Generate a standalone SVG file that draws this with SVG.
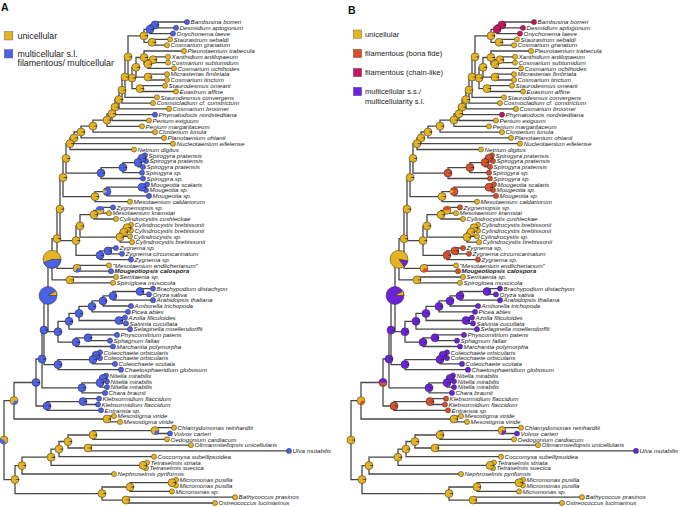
<svg xmlns="http://www.w3.org/2000/svg" width="680" height="507" viewBox="0 0 680 507">
<style>
.c{fill:none;stroke:#474747;stroke-width:1.3}
.t{font-family:"Liberation Sans",Arial,sans-serif;font-style:italic;font-size:6.2px;fill:#1a1a1a}
.b{font-weight:bold}
.hd{font-family:"Liberation Sans",Arial,sans-serif;font-weight:bold;font-size:10.5px;fill:#111}
.la{font-family:"Liberation Sans",Arial,sans-serif;font-size:8.8px;fill:#1a1a1a}
.lb{font-family:"Liberation Sans",Arial,sans-serif;font-size:7.6px;fill:#1a1a1a}
.sq{stroke:#555;stroke-width:.4}
.pe{stroke:#2a2a2a;stroke-width:.5}
</style>
<defs>
<circle id="dY" r="2.6" fill="#E6B422" stroke="#2a2a2a" stroke-width=".45"/>
<circle id="dB" r="2.6" fill="#4B61E6" stroke="#2a2a2a" stroke-width=".45"/>
<circle id="dO" r="2.6" fill="#D5502B" stroke="#2a2a2a" stroke-width=".45"/>
<circle id="dC" r="2.6" fill="#C81560" stroke="#2a2a2a" stroke-width=".45"/>
<circle id="dP" r="2.6" fill="#6C22DA" stroke="#2a2a2a" stroke-width=".45"/>
<g id="pY"><circle r="4" fill="#E6B422" stroke="#2a2a2a" stroke-width=".5"/><path d="M0 0L4 -.7V.7Z" fill="#2a2a2a"/></g>
<g id="pB"><circle r="4" fill="#4B61E6" stroke="#2a2a2a" stroke-width=".5"/><path d="M0 0L4 -.7V.7Z" fill="#2a2a2a"/></g>
<g id="pO"><circle r="4" fill="#D5502B" stroke="#2a2a2a" stroke-width=".5"/><path d="M0 0L4 -.7V.7Z" fill="#2a2a2a"/></g>
<g id="pC"><circle r="4" fill="#C81560" stroke="#2a2a2a" stroke-width=".5"/><path d="M0 0L4 -.7V.7Z" fill="#2a2a2a"/></g>
<g id="pP"><circle r="4" fill="#6C22DA" stroke="#2a2a2a" stroke-width=".5"/><path d="M0 0L4 -.7V.7Z" fill="#2a2a2a"/></g>
</defs>
<rect width="680" height="507" fill="#fff"/>

<g id="legendA">
<text class="hd" x="1" y="11">A</text>
<rect class="sq" x="4.3" y="31.5" width="8.5" height="8.5" fill="#E6B422"/>
<text class="la" x="17.5" y="39">unicellular</text>
<rect class="sq" x="4.3" y="49.5" width="8.5" height="8.5" fill="#4B61E6"/>
<text class="la" x="17.5" y="56.5">multicellular s.l.</text>
<text class="la" x="17.5" y="66.2">filamentous/ multicellular</text>
</g>

<g id="legendB">
<text class="hd" x="348" y="13.5">B</text>
<rect class="sq" x="353.3" y="30" width="8.4" height="8.4" fill="#E6B422"/>
<text class="lb" x="365" y="37.3">unicellular</text>
<rect class="sq" x="353.3" y="49.3" width="8.4" height="8.4" fill="#D5502B"/>
<text class="lb" x="365" y="56.2">filamentous (bona fide)</text>
<rect class="sq" x="353.3" y="68.3" width="8.4" height="8.4" fill="#C81560"/>
<text class="lb" x="365" y="75.2">filamentous (chain-like)</text>
<rect class="sq" x="353.3" y="87.3" width="8.4" height="8.4" fill="#6C22DA"/>
<text class="lb" x="365" y="94.2">multicellular s.s./</text>
<text class="lb" x="365" y="103.6">multicellularity s.l.</text>
</g>

<g id="connectorsA">
<path class="c" d="M187 22H155V27.8H176M155 24.9H150V33.6H173M170 39.4H152V45.2H167M150 29.3H144V42.3H152M168 56.8H153V62.6H168M153 59.7H148V68.4H174M184 51H144V64.1H148M167 74.2H148V80H167M144 57.5H136V77.1H148M165 85.7H140V91.5H176M136 67.3H132V88.6H140M144 35.8H128V78H132M128 56.9H125V97.3H157M125 77.1H122V103.1H153M122 90.1H119V108.9H169M119 99.5H115V114.7H155M115 107.1H112V120.5H149M112 113.8H107V126.3H142M107 120.1H93V132.1H155M93 126.1H81V137.9H164M81 132H74V143.7H173M74 137.9H70V149.5H134M145 155.3H142V161.1H146M142 158.2H138V166.9H143M138 162.6H123V172.7H142M123 167.6H101V178.5H143M70 143.7H66V173.1H101M147 184.3H142V190.1H146M142 187.2H107V195.9H149M107 191.6H95V201.7H130M66 158.4H63V196.6H95M113 207.4H100V213.2H109M100 210.3H94V219H116M131 224.8H127V230.6H131M127 227.7H124V236.4H130M124 232.1H120V242.2H132M94 214.7H80V237.1H120M116 248H108V253.8H122M108 250.9H100V259.6H131M80 225.9H76V255.3H100M63 177.5H60V240.6H76M109 265.4H77V271.2H111M60 209.1H57V268.3H77M116 277H70V282.8H113M57 238.7H52V279.9H70M153 288.6H140V294.4H149M140 291.5H113V300.2H153M113 295.9H103V306H131M103 300.9H92V311.8H128M125 317.6H119V323.4H126M92 306.4H79V320.5H119M79 313.4H69V329.2H130M117 334.9H88V340.7H110M88 337.8H76V346.5H113M69 321.3H58V342.2H76M52 259.3H48V331.7H58M100 352.3H96V358.1H100M96 355.2H93V363.9H115M93 359.6H58V369.7H121M48 295.5H44V364.6H58M106 375.5H103V381.3H107M103 378.4H100V387.1H107M100 382.8H82V392.9H105M44 330.1H42V387.8H82M99 398.7H83V404.5H98M83 401.6H47V410.3H101M42 359H36V406H47M114 416.1H107V421.9H120M36 382.5H14V419H107M174 427.7H155V433.5H170M155 430.6H93V439.3H167M191 445.1H88V450.9H289M93 435H68V448H88M68 441.5H59V456.7H154M147 462.5H143V468.2H146M59 449.1H51V465.4H143M51 457.2H22V474H114M176 479.8H172V485.6H176M172 482.7H130V491.4H172M235 497.2H126V503H215M130 487H102V500.1H126M22 465.6H15V493.6H102M14 400.7H4V479.6H15"/>
</g>

<g id="leavesA">
<g id="a01"><use href="#dB" x="187" y="22"/><text class="t" x="190.6" y="24.2">Bambusina borreri</text></g>
<g id="a02"><use href="#dB" x="176" y="27.8"/><text class="t" x="179.6" y="30">Desmidium aptogonum</text></g>
<g id="a03"><use href="#dB" x="173" y="33.6"/><text class="t" x="176.6" y="35.8">Onychonema laeve</text></g>
<g id="a04"><use href="#dY" x="170" y="39.4"/><text class="t" x="173.6" y="41.6">Staurastrum sebaldi</text></g>
<g id="a05"><use href="#dY" x="167" y="45.2"/><text class="t" x="170.6" y="47.4">Cosmarium granatum</text></g>
<g id="a06"><use href="#dY" x="184" y="51"/><text class="t" x="187.6" y="53.2">Pleurotaenium trabecula</text></g>
<g id="a07"><use href="#dY" x="168" y="56.8"/><text class="t" x="171.6" y="59">Xanthidium antilopaeum</text></g>
<g id="a08"><use href="#dY" x="168" y="62.6"/><text class="t" x="171.6" y="64.8">Cosmarium subtumidum</text></g>
<g id="a09"><use href="#dY" x="174" y="68.4"/><text class="t" x="177.6" y="70.6">Cosmarium ochthodes</text></g>
<g id="a10"><use href="#dY" x="167" y="74.2"/><text class="t" x="170.6" y="76.4">Micrasterias fimbriata</text></g>
<g id="a11"><use href="#dY" x="167" y="80"/><text class="t" x="170.6" y="82.2">Cosmarium tinctum</text></g>
<g id="a12"><use href="#dY" x="165" y="85.7"/><text class="t" x="168.6" y="87.9">Staurodesmus omearii</text></g>
<g id="a13"><use href="#dY" x="176" y="91.5"/><text class="t" x="179.6" y="93.7">Euastrum affine</text></g>
<g id="a14"><use href="#dY" x="157" y="97.3"/><text class="t" x="160.6" y="99.5">Staurodesmus convergens</text></g>
<g id="a15"><use href="#dY" x="153" y="103.1"/><text class="t" x="156.6" y="105.3">Cosmocladium cf. constrictum</text></g>
<g id="a16"><use href="#dY" x="169" y="108.9"/><text class="t" x="172.6" y="111.1">Cosmarium broomei</text></g>
<g id="a17"><use href="#dB" x="155" y="114.7"/><text class="t" x="158.6" y="116.9">Phymatodocis nordstedtiana</text></g>
<g id="a18"><use href="#dY" x="149" y="120.5"/><text class="t" x="152.6" y="122.7">Penium exiguum</text></g>
<g id="a19"><use href="#dY" x="142" y="126.3"/><text class="t" x="145.6" y="128.5">Penium margaritaceum</text></g>
<g id="a20"><use href="#dY" x="155" y="132.1"/><text class="t" x="158.6" y="134.3">Closterium lunula</text></g>
<g id="a21"><use href="#dY" x="164" y="137.9"/><text class="t" x="167.6" y="140.1">Planotaenium ohtanii</text></g>
<g id="a22"><use href="#dY" x="173" y="143.7"/><text class="t" x="176.6" y="145.9">Nucleotaenium eifelense</text></g>
<g id="a23"><use href="#dY" x="134" y="149.5"/><text class="t" x="137.6" y="151.7">Netrium digitus</text></g>
<g id="a24"><use href="#dB" x="145" y="155.3"/><text class="t" x="148.6" y="157.5">Spirogyra pratensis</text></g>
<g id="a25"><use href="#dB" x="146" y="161.1"/><text class="t" x="149.6" y="163.3">Spirogyra pratensis</text></g>
<g id="a26"><use href="#dB" x="143" y="166.9"/><text class="t" x="146.6" y="169.1">Spirogyra pratensis</text></g>
<g id="a27"><use href="#dB" x="142" y="172.7"/><text class="t" x="145.6" y="174.9">Spirogyra sp.</text></g>
<g id="a28"><use href="#dB" x="143" y="178.5"/><text class="t" x="146.6" y="180.7">Spirogyra sp.</text></g>
<g id="a29"><use href="#dB" x="147" y="184.3"/><text class="t" x="150.6" y="186.5">Mougeotia scalaris</text></g>
<g id="a30"><use href="#dB" x="146" y="190.1"/><text class="t" x="149.6" y="192.3">Mougeotia sp.</text></g>
<g id="a31"><use href="#dB" x="149" y="195.9"/><text class="t" x="152.6" y="198.1">Mougeotia sp.</text></g>
<g id="a32"><use href="#dY" x="130" y="201.7"/><text class="t" x="133.6" y="203.9">Mesotaenium caldariorum</text></g>
<g id="a33"><use href="#dB" x="113" y="207.4"/><text class="t" x="116.6" y="209.6">Zygnemopsis sp.</text></g>
<g id="a34"><use href="#dY" x="109" y="213.2"/><text class="t" x="112.6" y="215.4">Mesotaenium kramstai</text></g>
<g id="a35"><use href="#dY" x="116" y="219"/><text class="t" x="119.6" y="221.2">Cylindrocystis cushleckae</text></g>
<g id="a36"><use href="#dY" x="131" y="224.8"/><text class="t" x="134.6" y="227">Cylindrocystis brebissonii</text></g>
<g id="a37"><use href="#dY" x="131" y="230.6"/><text class="t" x="134.6" y="232.8">Cylindrocystis brebissonii</text></g>
<g id="a38"><use href="#dY" x="130" y="236.4"/><text class="t" x="133.6" y="238.6">Cylindrocystis sp.</text></g>
<g id="a39"><use href="#dY" x="132" y="242.2"/><text class="t" x="135.6" y="244.4">Cylindrocystis brebissonii</text></g>
<g id="a40"><use href="#dB" x="116" y="248"/><text class="t" x="119.6" y="250.2">Zygnema sp.</text></g>
<g id="a41"><use href="#dB" x="122" y="253.8"/><text class="t" x="125.6" y="256">Zygnema circumcarinatum</text></g>
<g id="a42"><use href="#dB" x="131" y="259.6"/><text class="t" x="134.6" y="261.8">Zygnema sp.</text></g>
<g id="a43"><use href="#dY" x="109" y="265.4"/><text class="t" x="112.6" y="267.6">"Mesotaenium endlicherianum"</text></g>
<g id="a44"><use href="#dB" x="111" y="271.2"/><text class="t b" x="114.6" y="273.4">Mougeotiopsis calospora</text></g>
<g id="a45"><use href="#dY" x="116" y="277"/><text class="t" x="119.6" y="279.2">Serritaenia sp.</text></g>
<g id="a46"><use href="#dY" x="113" y="282.8"/><text class="t" x="116.6" y="285">Spirogloea muscicola</text></g>
<g id="a47"><use href="#dB" x="153" y="288.6"/><text class="t" x="156.6" y="290.8">Brachypodium distachyon</text></g>
<g id="a48"><use href="#dB" x="149" y="294.4"/><text class="t" x="152.6" y="296.6">Oryza sativa</text></g>
<g id="a49"><use href="#dB" x="153" y="300.2"/><text class="t" x="156.6" y="302.4">Arabidopsis thaliana</text></g>
<g id="a50"><use href="#dB" x="131" y="306"/><text class="t" x="134.6" y="308.2">Amborella trichopoda</text></g>
<g id="a51"><use href="#dB" x="128" y="311.8"/><text class="t" x="131.6" y="314">Picea abies</text></g>
<g id="a52"><use href="#dB" x="125" y="317.6"/><text class="t" x="128.6" y="319.8">Azolla filiculoides</text></g>
<g id="a53"><use href="#dB" x="126" y="323.4"/><text class="t" x="129.6" y="325.6">Salvinia cucullata</text></g>
<g id="a54"><use href="#dB" x="130" y="329.2"/><text class="t" x="133.6" y="331.4">Selaginella moellendorffii</text></g>
<g id="a55"><use href="#dB" x="117" y="334.9"/><text class="t" x="120.6" y="337.1">Physcomitrium patens</text></g>
<g id="a56"><use href="#dB" x="110" y="340.7"/><text class="t" x="113.6" y="342.9">Sphagnum fallax</text></g>
<g id="a57"><use href="#dB" x="113" y="346.5"/><text class="t" x="116.6" y="348.7">Marchantia polymorpha</text></g>
<g id="a58"><use href="#dB" x="100" y="352.3"/><text class="t" x="103.6" y="354.5">Coleochaete orbicularis</text></g>
<g id="a59"><use href="#dB" x="100" y="358.1"/><text class="t" x="103.6" y="360.3">Coleochaete orbicularis</text></g>
<g id="a60"><use href="#dB" x="115" y="363.9"/><text class="t" x="118.6" y="366.1">Coleochaete scutata</text></g>
<g id="a61"><use href="#dB" x="121" y="369.7"/><text class="t" x="124.6" y="371.9">Chaetosphaeridium globosum</text></g>
<g id="a62"><use href="#dB" x="106" y="375.5"/><text class="t" x="109.6" y="377.7">Nitella mirabilis</text></g>
<g id="a63"><use href="#dB" x="107" y="381.3"/><text class="t" x="110.6" y="383.5">Nitella mirabilis</text></g>
<g id="a64"><use href="#dB" x="107" y="387.1"/><text class="t" x="110.6" y="389.3">Nitella mirabilis</text></g>
<g id="a65"><use href="#dB" x="105" y="392.9"/><text class="t" x="108.6" y="395.1">Chara braunii</text></g>
<g id="a66"><use href="#dB" x="99" y="398.7"/><text class="t" x="102.6" y="400.9">Klebsormidium flaccidum</text></g>
<g id="a67"><use href="#dB" x="98" y="404.5"/><text class="t" x="101.6" y="406.7">Klebsormidium flaccidum</text></g>
<g id="a68"><use href="#dB" x="101" y="410.3"/><text class="t" x="104.6" y="412.5">Entransia sp.</text></g>
<g id="a69"><use href="#dY" x="114" y="416.1"/><text class="t" x="117.6" y="418.3">Mesostigma viride</text></g>
<g id="a70"><use href="#dY" x="120" y="421.9"/><text class="t" x="123.6" y="424.1">Mesostigma viride</text></g>
<g id="a71"><use href="#dY" x="174" y="427.7"/><text class="t" x="177.6" y="429.9">Chlamydomonas reinhardtii</text></g>
<g id="a72"><use href="#dB" x="170" y="433.5"/><text class="t" x="173.6" y="435.7">Volvox carteri</text></g>
<g id="a73"><use href="#dY" x="167" y="439.3"/><text class="t" x="170.6" y="441.5">Oedogonium cardiacum</text></g>
<g id="a74"><use href="#dY" x="191" y="445.1"/><text class="t" x="194.6" y="447.3">Oltmannsiellopsis unicellularis</text></g>
<g id="a75"><use href="#dB" x="289" y="450.9"/><text class="t" x="292.6" y="453.1">Ulva mutabilis</text></g>
<g id="a76"><use href="#dY" x="154" y="456.7"/><text class="t" x="157.6" y="458.9">Coccomyxa subellipsoidea</text></g>
<g id="a77"><use href="#dY" x="147" y="462.5"/><text class="t" x="150.6" y="464.7">Tetraselmis striata</text></g>
<g id="a78"><use href="#dY" x="146" y="468.2"/><text class="t" x="149.6" y="470.4">Tetraselmis suecica</text></g>
<g id="a79"><use href="#dY" x="114" y="474"/><text class="t" x="117.6" y="476.2">Nephroselmis pyriformis</text></g>
<g id="a80"><use href="#dY" x="176" y="479.8"/><text class="t" x="179.6" y="482">Micromonas pusilla</text></g>
<g id="a81"><use href="#dY" x="176" y="485.6"/><text class="t" x="179.6" y="487.8">Micromonas pusilla</text></g>
<g id="a82"><use href="#dY" x="172" y="491.4"/><text class="t" x="175.6" y="493.6">Micromonas sp.</text></g>
<g id="a83"><use href="#dY" x="235" y="497.2"/><text class="t" x="238.6" y="499.4">Bathycoccus prasinos</text></g>
<g id="a84"><use href="#dY" x="215" y="503"/><text class="t" x="218.6" y="505.2">Ostreococcus lucimarinus</text></g>
</g>

<g id="nodesA">
<use id="a-n1" href="#pB" x="155" y="24.9"/>
<use id="a-n2" href="#pB" x="150" y="29.3"/>
<use id="a-n3" href="#pY" x="152" y="42.3"/>
<use id="a-n4" href="#pY" x="144" y="35.8"/>
<use id="a-m1" href="#pY" x="153" y="59.7"/>
<use id="a-m2" href="#pY" x="148" y="64.1"/>
<use id="a-m3" href="#pY" x="144" y="57.5"/>
<use id="a-m4" href="#pY" x="148" y="77.1"/>
<use id="a-m6" href="#pY" x="136" y="67.3"/>
<use id="a-m5" href="#pY" x="140" y="88.6"/>
<use id="a-m7" href="#pY" x="132" y="78"/>
<use id="a-up" href="#pY" x="128" y="56.9"/>
<use id="a-lsc" href="#pY" x="125" y="77.1"/>
<use id="a-lcc" href="#pY" x="122" y="90.1"/>
<use id="a-lcb" href="#pY" x="119" y="99.5"/>
<use id="a-lph" href="#pY" x="115" y="107.1"/>
<use id="a-lpe" href="#pY" x="112" y="113.8"/>
<use id="a-d3" href="#pY" x="107" y="120.1"/>
<use id="a-d2" href="#pY" x="93" y="126.1"/>
<use id="a-des" href="#pY" x="81" y="132"/>
<use id="a-d0" href="#pY" x="74" y="137.9"/>
<use id="a-dn" href="#pY" x="70" y="143.7"/>
<use id="a-sp3" href="#pB" x="142" y="158.2"/>
<use id="a-sp2" href="#pB" x="138" y="162.6"/>
<use id="a-sp1" href="#pB" x="123" y="167.6"/>
<use id="a-sp" href="#pB" x="101" y="173.1"/>
<use id="a-a2" href="#pY" x="66" y="158.4"/>
<use id="a-mo1" href="#pB" x="142" y="187.2"/>
<g id="a-mo"><circle class="pe" cx="107" cy="191.6" r="4" fill="#4B61E6"/><path d="M107 191.6L103.54 193.6A4 4 0 0 1 103.54 189.6Z" fill="#E6B422"/></g>
<use id="a-moc" href="#pY" x="95" y="196.6"/>
<use id="a-a1" href="#pY" x="63" y="177.5"/>
<g id="a-zk1"><circle class="pe" cx="100" cy="210.3" r="4" fill="#E6B422"/><path d="M100 210.3L96 210.3A4 4 0 0 1 104 210.3Z" fill="#4B61E6"/></g>
<use id="a-zk" href="#pY" x="94" y="214.7"/>
<use id="a-cb2" href="#pY" x="127" y="227.7"/>
<use id="a-cb1" href="#pY" x="124" y="232.1"/>
<use id="a-cb" href="#pY" x="120" y="237.1"/>
<use id="a-zc" href="#pY" x="80" y="225.9"/>
<use id="a-zn1" href="#pB" x="108" y="250.9"/>
<use id="a-zn" href="#pB" x="100" y="255.3"/>
<use id="a-zz" href="#pY" x="76" y="240.6"/>
<use id="a-zx" href="#pY" x="60" y="209.1"/>
<g id="a-z2a"><circle class="pe" cx="77" cy="268.3" r="4" fill="#E6B422"/><path d="M77 268.3L81 268.3A4 4 0 0 1 75 271.76Z" fill="#4B61E6"/></g>
<use id="a-zm" href="#pY" x="57" y="238.7"/>
<use id="a-ss" href="#pY" x="70" y="279.9"/>
<g id="a-zyg"><circle class="pe" cx="52" cy="259.3" r="9" fill="#E6B422"/><path class="pe" d="M52 259.3L61 259.3A9 9 0 0 1 43.54 262.38Z" fill="#4B61E6"/></g>
<use id="a-mon" href="#pB" x="140" y="291.5"/>
<use id="a-eud" href="#pB" x="113" y="295.9"/>
<use id="a-ang" href="#pB" x="103" y="300.9"/>
<use id="a-seed" href="#pB" x="92" y="306.4"/>
<use id="a-fern" href="#pB" x="119" y="320.5"/>
<use id="a-euph" href="#pB" x="79" y="313.4"/>
<use id="a-tra" href="#pB" x="69" y="321.3"/>
<use id="a-moss" href="#pB" x="88" y="337.8"/>
<use id="a-bry" href="#pB" x="76" y="342.2"/>
<use id="a-emb" href="#pB" x="58" y="331.7"/>
<g id="a-any"><circle class="pe" cx="48" cy="295.5" r="9" fill="#4B61E6"/><path class="pe" d="M48 295.5L55.79 291A9 9 0 0 1 57 295.5Z" fill="#E6B422"/></g>
<use id="a-co2" href="#pB" x="96" y="355.2"/>
<use id="a-coa" href="#pB" x="93" y="359.6"/>
<use id="a-col" href="#pB" x="58" y="364.6"/>
<use id="a-nc" href="#pB" x="44" y="330.1"/>
<use id="a-nit2" href="#pB" x="103" y="378.4"/>
<use id="a-nit" href="#pB" x="100" y="382.8"/>
<use id="a-cha" href="#pB" x="82" y="387.8"/>
<use id="a-nb" href="#pB" x="42" y="359"/>
<use id="a-kf" href="#pB" x="83" y="401.6"/>
<use id="a-kle" href="#pB" x="47" y="406"/>
<use id="a-na" href="#pB" x="36" y="382.5"/>
<use id="a-mes" href="#pY" x="107" y="419"/>
<g id="a-strep"><circle class="pe" cx="14" cy="400.7" r="4" fill="#E6B422"/><path d="M14 400.7L18 400.7A4 4 0 0 1 12.63 404.46Z" fill="#4B61E6"/></g>
<g id="a-cv"><circle class="pe" cx="155" cy="430.6" r="4" fill="#E6B422"/><path d="M155 430.6L159 430.6A4 4 0 0 1 154.31 434.54Z" fill="#4B61E6"/></g>
<use id="a-c5" href="#pY" x="93" y="435"/>
<use id="a-c6" href="#pY" x="88" y="448"/>
<use id="a-c4" href="#pY" x="68" y="441.5"/>
<use id="a-c3" href="#pY" x="59" y="449.1"/>
<use id="a-tet" href="#pY" x="143" y="465.4"/>
<use id="a-c2" href="#pY" x="51" y="457.2"/>
<use id="a-c1" href="#pY" x="22" y="465.6"/>
<use id="a-micp" href="#pY" x="172" y="482.7"/>
<use id="a-mic" href="#pY" x="130" y="487"/>
<use id="a-bo" href="#pY" x="126" y="500.1"/>
<use id="a-mam" href="#pY" x="102" y="493.6"/>
<use id="a-chloro" href="#pY" x="15" y="479.6"/>
<g id="a-root"><circle class="pe" cx="4" cy="440.1" r="4" fill="#E6B422"/><path d="M4 440.1L6 443.56A4 4 0 0 1 0.24 438.73Z" fill="#4B61E6"/></g>
</g>

<g id="panelB" transform="translate(347 0)">
<g id="connectorsB">
<path class="c" d="M187 22H155V27.8H176M155 24.9H150V33.6H173M170 39.4H152V45.2H167M150 29.3H144V42.3H152M168 56.8H153V62.6H168M153 59.7H148V68.4H174M184 51H144V64.1H148M167 74.2H148V80H167M144 57.5H136V77.1H148M165 85.7H140V91.5H176M136 67.3H132V88.6H140M144 35.8H128V78H132M128 56.9H125V97.3H157M125 77.1H122V103.1H153M122 90.1H119V108.9H169M119 99.5H115V114.7H155M115 107.1H112V120.5H149M112 113.8H107V126.3H142M107 120.1H93V132.1H155M93 126.1H81V137.9H164M81 132H74V143.7H173M74 137.9H70V149.5H134M145 155.3H142V161.1H146M142 158.2H138V166.9H143M138 162.6H123V172.7H142M123 167.6H101V178.5H143M70 143.7H66V173.1H101M147 184.3H142V190.1H146M142 187.2H107V195.9H149M107 191.6H95V201.7H130M66 158.4H63V196.6H95M113 207.4H100V213.2H109M100 210.3H94V219H116M131 224.8H127V230.6H131M127 227.7H124V236.4H130M124 232.1H120V242.2H132M94 214.7H80V237.1H120M116 248H108V253.8H122M108 250.9H100V259.6H131M80 225.9H76V255.3H100M63 177.5H60V240.6H76M109 265.4H77V271.2H111M60 209.1H57V268.3H77M116 277H70V282.8H113M57 238.7H52V279.9H70M153 288.6H140V294.4H149M140 291.5H113V300.2H153M113 295.9H103V306H131M103 300.9H92V311.8H128M125 317.6H119V323.4H126M92 306.4H79V320.5H119M79 313.4H69V329.2H130M117 334.9H88V340.7H110M88 337.8H76V346.5H113M69 321.3H58V342.2H76M52 259.3H48V331.7H58M100 352.3H96V358.1H100M96 355.2H93V363.9H115M93 359.6H58V369.7H121M48 295.5H44V364.6H58M106 375.5H103V381.3H107M103 378.4H100V387.1H107M100 382.8H82V392.9H105M44 330.1H42V387.8H82M99 398.7H83V404.5H98M83 401.6H47V410.3H101M42 359H36V406H47M114 416.1H107V421.9H120M36 382.5H14V419H107M174 427.7H155V433.5H170M155 430.6H93V439.3H167M191 445.1H88V450.9H289M93 435H68V448H88M68 441.5H59V456.7H154M147 462.5H143V468.2H146M59 449.1H51V465.4H143M51 457.2H22V474H114M176 479.8H172V485.6H176M172 482.7H130V491.4H172M235 497.2H126V503H215M130 487H102V500.1H126M22 465.6H15V493.6H102M14 400.7H4V479.6H15"/>
</g>

<g id="leavesB">
<g id="b01"><use href="#dC" x="187" y="22"/><text class="t" x="190.6" y="24.2">Bambusina borreri</text></g>
<g id="b02"><use href="#dC" x="176" y="27.8"/><text class="t" x="179.6" y="30">Desmidium aptogonum</text></g>
<g id="b03"><use href="#dC" x="173" y="33.6"/><text class="t" x="176.6" y="35.8">Onychonema laeve</text></g>
<g id="b04"><use href="#dY" x="170" y="39.4"/><text class="t" x="173.6" y="41.6">Staurastrum sebaldi</text></g>
<g id="b05"><use href="#dY" x="167" y="45.2"/><text class="t" x="170.6" y="47.4">Cosmarium granatum</text></g>
<g id="b06"><use href="#dY" x="184" y="51"/><text class="t" x="187.6" y="53.2">Pleurotaenium trabecula</text></g>
<g id="b07"><use href="#dY" x="168" y="56.8"/><text class="t" x="171.6" y="59">Xanthidium antilopaeum</text></g>
<g id="b08"><use href="#dY" x="168" y="62.6"/><text class="t" x="171.6" y="64.8">Cosmarium subtumidum</text></g>
<g id="b09"><use href="#dY" x="174" y="68.4"/><text class="t" x="177.6" y="70.6">Cosmarium ochthodes</text></g>
<g id="b10"><use href="#dY" x="167" y="74.2"/><text class="t" x="170.6" y="76.4">Micrasterias fimbriata</text></g>
<g id="b11"><use href="#dY" x="167" y="80"/><text class="t" x="170.6" y="82.2">Cosmarium tinctum</text></g>
<g id="b12"><use href="#dY" x="165" y="85.7"/><text class="t" x="168.6" y="87.9">Staurodesmus omearii</text></g>
<g id="b13"><use href="#dY" x="176" y="91.5"/><text class="t" x="179.6" y="93.7">Euastrum affine</text></g>
<g id="b14"><use href="#dY" x="157" y="97.3"/><text class="t" x="160.6" y="99.5">Staurodesmus convergens</text></g>
<g id="b15"><use href="#dY" x="153" y="103.1"/><text class="t" x="156.6" y="105.3">Cosmocladium cf. constrictum</text></g>
<g id="b16"><use href="#dY" x="169" y="108.9"/><text class="t" x="172.6" y="111.1">Cosmarium broomei</text></g>
<g id="b17"><use href="#dC" x="155" y="114.7"/><text class="t" x="158.6" y="116.9">Phymatodocis nordstedtiana</text></g>
<g id="b18"><use href="#dY" x="149" y="120.5"/><text class="t" x="152.6" y="122.7">Penium exiguum</text></g>
<g id="b19"><use href="#dY" x="142" y="126.3"/><text class="t" x="145.6" y="128.5">Penium margaritaceum</text></g>
<g id="b20"><use href="#dY" x="155" y="132.1"/><text class="t" x="158.6" y="134.3">Closterium lunula</text></g>
<g id="b21"><use href="#dY" x="164" y="137.9"/><text class="t" x="167.6" y="140.1">Planotaenium ohtanii</text></g>
<g id="b22"><use href="#dY" x="173" y="143.7"/><text class="t" x="176.6" y="145.9">Nucleotaenium eifelense</text></g>
<g id="b23"><use href="#dY" x="134" y="149.5"/><text class="t" x="137.6" y="151.7">Netrium digitus</text></g>
<g id="b24"><use href="#dO" x="145" y="155.3"/><text class="t" x="148.6" y="157.5">Spirogyra pratensis</text></g>
<g id="b25"><use href="#dO" x="146" y="161.1"/><text class="t" x="149.6" y="163.3">Spirogyra pratensis</text></g>
<g id="b26"><use href="#dO" x="143" y="166.9"/><text class="t" x="146.6" y="169.1">Spirogyra pratensis</text></g>
<g id="b27"><use href="#dO" x="142" y="172.7"/><text class="t" x="145.6" y="174.9">Spirogyra sp.</text></g>
<g id="b28"><use href="#dO" x="143" y="178.5"/><text class="t" x="146.6" y="180.7">Spirogyra sp.</text></g>
<g id="b29"><use href="#dO" x="147" y="184.3"/><text class="t" x="150.6" y="186.5">Mougeotia scalaris</text></g>
<g id="b30"><use href="#dO" x="146" y="190.1"/><text class="t" x="149.6" y="192.3">Mougeotia sp.</text></g>
<g id="b31"><use href="#dO" x="149" y="195.9"/><text class="t" x="152.6" y="198.1">Mougeotia sp.</text></g>
<g id="b32"><use href="#dY" x="130" y="201.7"/><text class="t" x="133.6" y="203.9">Mesotaenium caldariorum</text></g>
<g id="b33"><use href="#dO" x="113" y="207.4"/><text class="t" x="116.6" y="209.6">Zygnemopsis sp.</text></g>
<g id="b34"><use href="#dY" x="109" y="213.2"/><text class="t" x="112.6" y="215.4">Mesotaenium kramstai</text></g>
<g id="b35"><use href="#dY" x="116" y="219"/><text class="t" x="119.6" y="221.2">Cylindrocystis cushleckae</text></g>
<g id="b36"><use href="#dY" x="131" y="224.8"/><text class="t" x="134.6" y="227">Cylindrocystis brebissonii</text></g>
<g id="b37"><use href="#dY" x="131" y="230.6"/><text class="t" x="134.6" y="232.8">Cylindrocystis brebissonii</text></g>
<g id="b38"><use href="#dY" x="130" y="236.4"/><text class="t" x="133.6" y="238.6">Cylindrocystis sp.</text></g>
<g id="b39"><use href="#dY" x="132" y="242.2"/><text class="t" x="135.6" y="244.4">Cylindrocystis brebissonii</text></g>
<g id="b40"><use href="#dO" x="116" y="248"/><text class="t" x="119.6" y="250.2">Zygnema sp.</text></g>
<g id="b41"><use href="#dO" x="122" y="253.8"/><text class="t" x="125.6" y="256">Zygnema circumcarinatum</text></g>
<g id="b42"><use href="#dO" x="131" y="259.6"/><text class="t" x="134.6" y="261.8">Zygnema sp.</text></g>
<g id="b43"><use href="#dY" x="109" y="265.4"/><text class="t" x="112.6" y="267.6">"Mesotaenium endlicherianum"</text></g>
<g id="b44"><use href="#dO" x="111" y="271.2"/><text class="t b" x="114.6" y="273.4">Mougeotiopsis calospora</text></g>
<g id="b45"><use href="#dY" x="116" y="277"/><text class="t" x="119.6" y="279.2">Serritaenia sp.</text></g>
<g id="b46"><use href="#dY" x="113" y="282.8"/><text class="t" x="116.6" y="285">Spirogloea muscicola</text></g>
<g id="b47"><use href="#dP" x="153" y="288.6"/><text class="t" x="156.6" y="290.8">Brachypodium distachyon</text></g>
<g id="b48"><use href="#dP" x="149" y="294.4"/><text class="t" x="152.6" y="296.6">Oryza sativa</text></g>
<g id="b49"><use href="#dP" x="153" y="300.2"/><text class="t" x="156.6" y="302.4">Arabidopsis thaliana</text></g>
<g id="b50"><use href="#dP" x="131" y="306"/><text class="t" x="134.6" y="308.2">Amborella trichopoda</text></g>
<g id="b51"><use href="#dP" x="128" y="311.8"/><text class="t" x="131.6" y="314">Picea abies</text></g>
<g id="b52"><use href="#dP" x="125" y="317.6"/><text class="t" x="128.6" y="319.8">Azolla filiculoides</text></g>
<g id="b53"><use href="#dP" x="126" y="323.4"/><text class="t" x="129.6" y="325.6">Salvinia cucullata</text></g>
<g id="b54"><use href="#dP" x="130" y="329.2"/><text class="t" x="133.6" y="331.4">Selaginella moellendorffii</text></g>
<g id="b55"><use href="#dP" x="117" y="334.9"/><text class="t" x="120.6" y="337.1">Physcomitrium patens</text></g>
<g id="b56"><use href="#dP" x="110" y="340.7"/><text class="t" x="113.6" y="342.9">Sphagnum fallax</text></g>
<g id="b57"><use href="#dP" x="113" y="346.5"/><text class="t" x="116.6" y="348.7">Marchantia polymorpha</text></g>
<g id="b58"><use href="#dP" x="100" y="352.3"/><text class="t" x="103.6" y="354.5">Coleochaete orbicularis</text></g>
<g id="b59"><use href="#dP" x="100" y="358.1"/><text class="t" x="103.6" y="360.3">Coleochaete orbicularis</text></g>
<g id="b60"><use href="#dP" x="115" y="363.9"/><text class="t" x="118.6" y="366.1">Coleochaete scutata</text></g>
<g id="b61"><use href="#dP" x="121" y="369.7"/><text class="t" x="124.6" y="371.9">Chaetosphaeridium globosum</text></g>
<g id="b62"><use href="#dP" x="106" y="375.5"/><text class="t" x="109.6" y="377.7">Nitella mirabilis</text></g>
<g id="b63"><use href="#dP" x="107" y="381.3"/><text class="t" x="110.6" y="383.5">Nitella mirabilis</text></g>
<g id="b64"><use href="#dP" x="107" y="387.1"/><text class="t" x="110.6" y="389.3">Nitella mirabilis</text></g>
<g id="b65"><use href="#dP" x="105" y="392.9"/><text class="t" x="108.6" y="395.1">Chara braunii</text></g>
<g id="b66"><use href="#dO" x="99" y="398.7"/><text class="t" x="102.6" y="400.9">Klebsormidium flaccidum</text></g>
<g id="b67"><use href="#dO" x="98" y="404.5"/><text class="t" x="101.6" y="406.7">Klebsormidium flaccidum</text></g>
<g id="b68"><use href="#dO" x="101" y="410.3"/><text class="t" x="104.6" y="412.5">Entransia sp.</text></g>
<g id="b69"><use href="#dY" x="114" y="416.1"/><text class="t" x="117.6" y="418.3">Mesostigma viride</text></g>
<g id="b70"><use href="#dY" x="120" y="421.9"/><text class="t" x="123.6" y="424.1">Mesostigma viride</text></g>
<g id="b71"><use href="#dY" x="174" y="427.7"/><text class="t" x="177.6" y="429.9">Chlamydomonas reinhardtii</text></g>
<g id="b72"><use href="#dP" x="170" y="433.5"/><text class="t" x="173.6" y="435.7">Volvox carteri</text></g>
<g id="b73"><use href="#dY" x="167" y="439.3"/><text class="t" x="170.6" y="441.5">Oedogonium cardiacum</text></g>
<g id="b74"><use href="#dY" x="191" y="445.1"/><text class="t" x="194.6" y="447.3">Oltmannsiellopsis unicellularis</text></g>
<g id="b75"><use href="#dP" x="289" y="450.9"/><text class="t" x="292.6" y="453.1">Ulva mutabilis</text></g>
<g id="b76"><use href="#dY" x="154" y="456.7"/><text class="t" x="157.6" y="458.9">Coccomyxa subellipsoidea</text></g>
<g id="b77"><use href="#dY" x="147" y="462.5"/><text class="t" x="150.6" y="464.7">Tetraselmis striata</text></g>
<g id="b78"><use href="#dY" x="146" y="468.2"/><text class="t" x="149.6" y="470.4">Tetraselmis suecica</text></g>
<g id="b79"><use href="#dY" x="114" y="474"/><text class="t" x="117.6" y="476.2">Nephroselmis pyriformis</text></g>
<g id="b80"><use href="#dY" x="176" y="479.8"/><text class="t" x="179.6" y="482">Micromonas pusilla</text></g>
<g id="b81"><use href="#dY" x="176" y="485.6"/><text class="t" x="179.6" y="487.8">Micromonas pusilla</text></g>
<g id="b82"><use href="#dY" x="172" y="491.4"/><text class="t" x="175.6" y="493.6">Micromonas sp.</text></g>
<g id="b83"><use href="#dY" x="235" y="497.2"/><text class="t" x="238.6" y="499.4">Bathycoccus prasinos</text></g>
<g id="b84"><use href="#dY" x="215" y="503"/><text class="t" x="218.6" y="505.2">Ostreococcus lucimarinus</text></g>
</g>

<g id="nodesB">
<use id="b-n1" href="#pC" x="155" y="24.9"/>
<use id="b-n2" href="#pC" x="150" y="29.3"/>
<use id="b-n3" href="#pY" x="152" y="42.3"/>
<use id="b-n4" href="#pY" x="144" y="35.8"/>
<use id="b-m1" href="#pY" x="153" y="59.7"/>
<use id="b-m2" href="#pY" x="148" y="64.1"/>
<use id="b-m3" href="#pY" x="144" y="57.5"/>
<use id="b-m4" href="#pY" x="148" y="77.1"/>
<use id="b-m6" href="#pY" x="136" y="67.3"/>
<use id="b-m5" href="#pY" x="140" y="88.6"/>
<use id="b-m7" href="#pY" x="132" y="78"/>
<use id="b-up" href="#pY" x="128" y="56.9"/>
<use id="b-lsc" href="#pY" x="125" y="77.1"/>
<use id="b-lcc" href="#pY" x="122" y="90.1"/>
<use id="b-lcb" href="#pY" x="119" y="99.5"/>
<use id="b-lph" href="#pY" x="115" y="107.1"/>
<use id="b-lpe" href="#pY" x="112" y="113.8"/>
<use id="b-d3" href="#pY" x="107" y="120.1"/>
<use id="b-d2" href="#pY" x="93" y="126.1"/>
<use id="b-des" href="#pY" x="81" y="132"/>
<use id="b-d0" href="#pY" x="74" y="137.9"/>
<use id="b-dn" href="#pY" x="70" y="143.7"/>
<use id="b-sp3" href="#pO" x="142" y="158.2"/>
<use id="b-sp2" href="#pO" x="138" y="162.6"/>
<use id="b-sp1" href="#pO" x="123" y="167.6"/>
<use id="b-sp" href="#pO" x="101" y="173.1"/>
<use id="b-a2" href="#pY" x="66" y="158.4"/>
<use id="b-mo1" href="#pO" x="142" y="187.2"/>
<g id="b-mo"><circle class="pe" cx="107" cy="191.6" r="4" fill="#D5502B"/><path d="M107 191.6L103.54 193.6A4 4 0 0 1 103.54 189.6Z" fill="#E6B422"/></g>
<use id="b-moc" href="#pY" x="95" y="196.6"/>
<use id="b-a1" href="#pY" x="63" y="177.5"/>
<g id="b-zk1"><circle class="pe" cx="100" cy="210.3" r="4" fill="#E6B422"/><path d="M100 210.3L96 210.3A4 4 0 0 1 104 210.3Z" fill="#D5502B"/></g>
<use id="b-zk" href="#pY" x="94" y="214.7"/>
<use id="b-cb2" href="#pY" x="127" y="227.7"/>
<use id="b-cb1" href="#pY" x="124" y="232.1"/>
<use id="b-cb" href="#pY" x="120" y="237.1"/>
<use id="b-zc" href="#pY" x="80" y="225.9"/>
<use id="b-zn1" href="#pO" x="108" y="250.9"/>
<use id="b-zn" href="#pO" x="100" y="255.3"/>
<use id="b-zz" href="#pY" x="76" y="240.6"/>
<use id="b-zx" href="#pY" x="60" y="209.1"/>
<g id="b-z2a"><circle class="pe" cx="77" cy="268.3" r="4" fill="#E6B422"/><path d="M77 268.3L81 268.3A4 4 0 0 1 75 271.76Z" fill="#D5502B"/></g>
<use id="b-zm" href="#pY" x="57" y="238.7"/>
<use id="b-ss" href="#pY" x="70" y="279.9"/>
<g id="b-zyg"><circle class="pe" cx="52" cy="259.3" r="9" fill="#E6B422"/><path class="pe" d="M52 259.3L60.86 260.86A9 9 0 0 1 57.16 266.67Z" fill="#6C22DA"/></g>
<use id="b-mon" href="#pP" x="140" y="291.5"/>
<use id="b-eud" href="#pP" x="113" y="295.9"/>
<use id="b-ang" href="#pP" x="103" y="300.9"/>
<use id="b-seed" href="#pP" x="92" y="306.4"/>
<use id="b-fern" href="#pP" x="119" y="320.5"/>
<use id="b-euph" href="#pP" x="79" y="313.4"/>
<use id="b-tra" href="#pP" x="69" y="321.3"/>
<use id="b-moss" href="#pP" x="88" y="337.8"/>
<use id="b-bry" href="#pP" x="76" y="342.2"/>
<use id="b-emb" href="#pP" x="58" y="331.7"/>
<g id="b-any"><circle class="pe" cx="48" cy="295.5" r="9" fill="#6C22DA"/><path class="pe" d="M48 295.5L55.79 291A9 9 0 0 1 57 295.5Z" fill="#E6B422"/></g>
<use id="b-co2" href="#pP" x="96" y="355.2"/>
<use id="b-coa" href="#pP" x="93" y="359.6"/>
<use id="b-col" href="#pP" x="58" y="364.6"/>
<use id="b-nc" href="#pP" x="44" y="330.1"/>
<use id="b-nit2" href="#pP" x="103" y="378.4"/>
<use id="b-nit" href="#pP" x="100" y="382.8"/>
<use id="b-cha" href="#pP" x="82" y="387.8"/>
<use id="b-nb" href="#pP" x="42" y="359"/>
<use id="b-kf" href="#pO" x="83" y="401.6"/>
<use id="b-kle" href="#pO" x="47" y="406"/>
<g id="b-na"><circle class="pe" cx="36" cy="382.5" r="4" fill="#D5502B"/><path d="M36 382.5L32 382.5A4 4 0 0 1 40 382.5Z" fill="#6C22DA"/></g>
<use id="b-mes" href="#pY" x="107" y="419"/>
<g id="b-strep"><circle class="pe" cx="14" cy="400.7" r="4" fill="#E6B422"/><path d="M14 400.7L18 400.7A4 4 0 0 1 12.63 404.46Z" fill="#D5502B"/></g>
<g id="b-cv"><circle class="pe" cx="155" cy="430.6" r="4" fill="#E6B422"/><path d="M155 430.6L159 430.6A4 4 0 0 1 154.31 434.54Z" fill="#6C22DA"/></g>
<use id="b-c5" href="#pY" x="93" y="435"/>
<use id="b-c6" href="#pY" x="88" y="448"/>
<use id="b-c4" href="#pY" x="68" y="441.5"/>
<use id="b-c3" href="#pY" x="59" y="449.1"/>
<use id="b-tet" href="#pY" x="143" y="465.4"/>
<use id="b-c2" href="#pY" x="51" y="457.2"/>
<use id="b-c1" href="#pY" x="22" y="465.6"/>
<use id="b-micp" href="#pY" x="172" y="482.7"/>
<use id="b-mic" href="#pY" x="130" y="487"/>
<use id="b-bo" href="#pY" x="126" y="500.1"/>
<use id="b-mam" href="#pY" x="102" y="493.6"/>
<use id="b-chloro" href="#pY" x="15" y="479.6"/>
<use id="b-root" href="#pY" x="4" y="440.1"/>
</g>
</g>
</svg>
